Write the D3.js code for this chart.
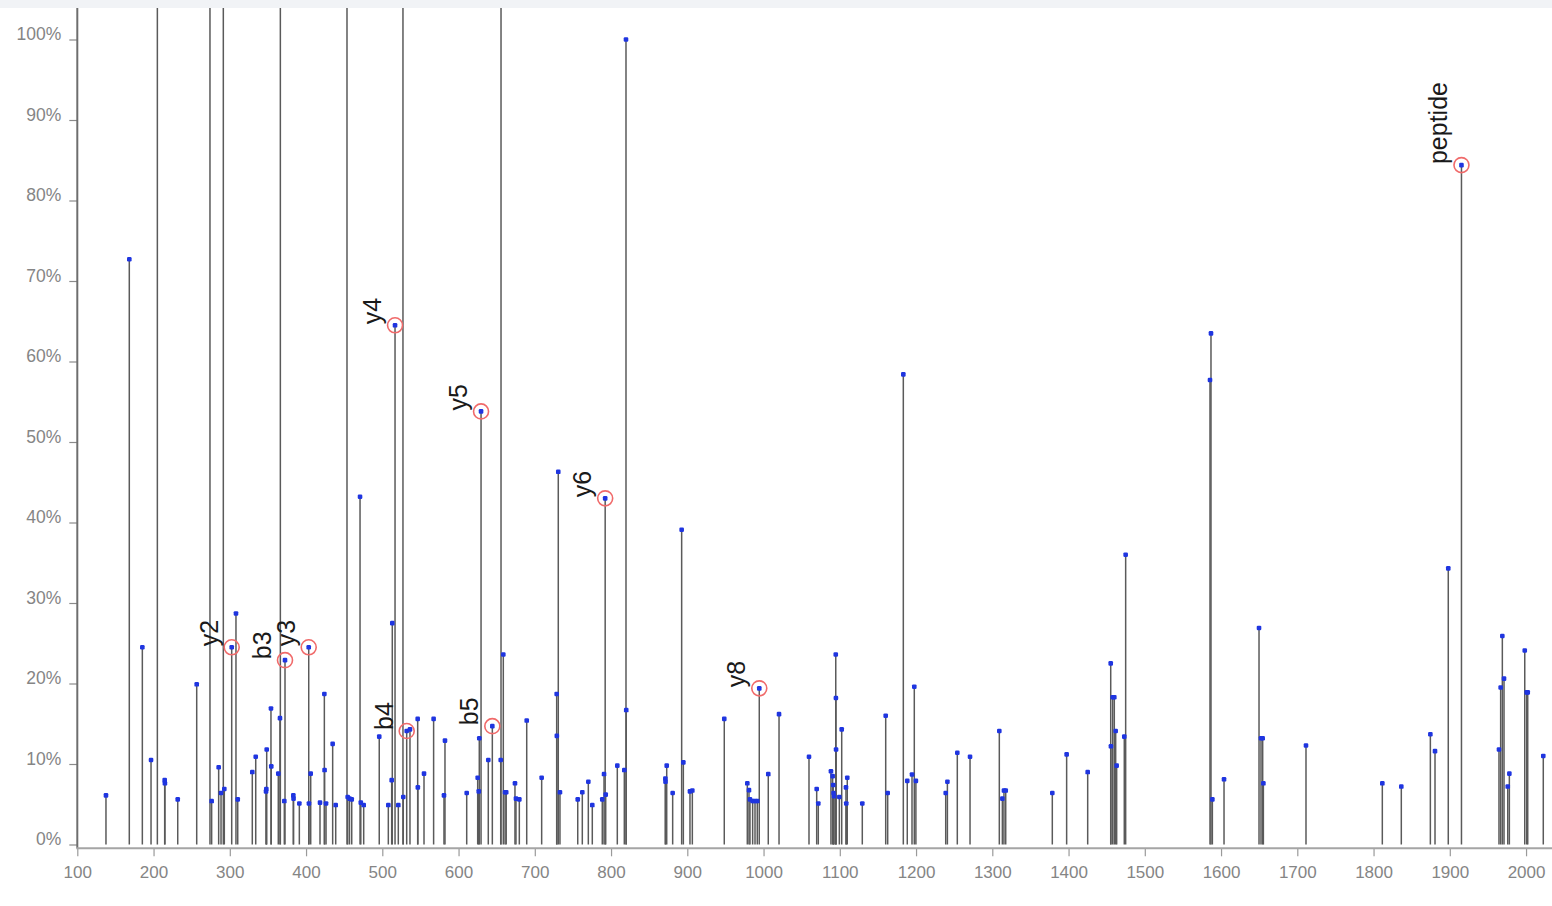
<!DOCTYPE html>
<html>
<head>
<meta charset="utf-8">
<script src="https://cdn.jsdelivr.net/npm/d3@7"></script>
<style>
  html, body { margin: 0; padding: 0; background: #fff; }
  svg { display: block; }
</style>
</head>
<body>
<svg id="chart" width="1552" height="906"></svg>
<script>
// Fragment ion spectrum: m/z positions and relative intensities (%)
const peakMz = [
  137.6, 168.2, 185.3, 196.7, 205.0, 214.6, 214.9, 231.7, 256.6, 274.0,
  276.2, 285.4, 288.5, 291.5, 292.8, 302.5, 308.1, 310.4, 329.5, 334.0,
  347.5, 347.9, 348.4, 354.0, 354.4, 363.6, 365.8, 366.3, 371.5, 372.4,
  383.3, 383.6, 391.2, 403.5, 403.8, 406.1, 418.3, 424.0, 424.3, 426.2,
  434.9, 438.9, 453.7, 454.6, 457.0, 459.9, 470.8, 471.8, 475.6, 496.0,
  507.9, 512.3, 513.1, 516.7, 521.0, 527.1, 527.5, 532.0, 536.3, 546.4,
  546.6, 554.7, 567.3, 580.9, 582.2, 610.7, 625.1, 626.5, 627.2, 629.5,
  639.0, 644.3, 655.3, 655.7, 658.7, 661.0, 662.5, 674.0, 675.3, 679.7,
  689.4, 709.0, 728.7, 728.9, 730.8, 733.0, 756.3, 762.3, 770.2, 775.4,
  788.5, 790.8, 792.3, 793.0, 808.2, 817.4, 819.6, 819.9, 871.2, 871.4,
  873.0, 880.8, 892.6, 894.8, 903.5, 906.6, 948.5, 978.7, 980.9, 982.2,
  985.7, 988.8, 991.8, 994.4, 1006.2, 1020.3, 1059.6, 1069.7, 1071.8, 1088.4,
  1090.6, 1091.4, 1091.8, 1092.5, 1094.7, 1094.9, 1095.1, 1099.4, 1102.5, 1108.1,
  1108.5, 1109.8, 1129.5, 1160.2, 1162.8, 1183.3, 1188.5, 1194.7, 1197.7, 1199.8,
  1238.9, 1241.1, 1254.1, 1270.8, 1309.2, 1313.2, 1315.3, 1317.6, 1378.7, 1397.5,
  1425.1, 1455.3, 1455.6, 1457.9, 1460.0, 1461.8, 1463.1, 1473.1, 1474.9, 1585.5,
  1586.8, 1588.6, 1603.9, 1649.8, 1652.4, 1654.6, 1655.5, 1711.4, 1811.5, 1836.4,
  1874.5, 1880.6, 1898.0, 1915.3, 1964.5, 1966.7, 1968.9, 1971.1, 1976.0, 1978.1,
  1998.3, 2000.9, 2002.2, 2022.6
];
const peakIntensity = [
  6.1, 72.7, 24.5, 10.5, 140, 8.0, 7.6, 5.6, 19.9, 130,
  5.4, 9.6, 6.4, 125, 6.9, 24.5, 28.7, 5.6, 9.0, 10.9,
  6.6, 6.9, 11.8, 16.9, 9.7, 8.8, 15.7, 135, 5.4, 22.9,
  6.1, 5.7, 5.1, 24.5, 5.1, 8.8, 5.2, 18.7, 9.25, 5.1,
  12.5, 4.9, 120, 5.9, 5.7, 5.6, 43.2, 5.2, 4.9, 13.4,
  4.9, 8.0, 27.5, 64.5, 4.9, 145, 5.9, 14.1, 14.3, 15.6,
  7.1, 8.8, 15.6, 6.1, 12.9, 6.4, 8.3, 6.6, 13.2, 53.8,
  10.5, 14.7, 10.5, 150, 23.6, 6.5, 6.5, 7.6, 5.7, 5.6,
  15.4, 8.3, 18.7, 13.5, 46.3, 6.5, 5.6, 6.5, 7.8, 4.9,
  5.6, 8.75, 43.0, 6.2, 9.8, 9.25, 100, 16.7, 8.2, 7.8,
  9.8, 6.4, 39.1, 10.2, 6.6, 6.7, 15.6, 7.6, 6.75, 5.6,
  5.4, 5.4, 5.4, 19.4, 8.75, 16.2, 10.9, 6.9, 5.1, 9.1,
  8.5, 7.4, 6.4, 6.0, 23.6, 18.2, 11.8, 5.9, 14.3, 7.1,
  5.1, 8.3, 5.1, 16.0, 6.4, 58.4, 7.9, 8.7, 19.6, 7.9,
  6.4, 7.8, 11.4, 10.9, 14.1, 5.7, 6.7, 6.7, 6.4, 11.2,
  9.0, 22.5, 12.2, 18.3, 18.3, 14.1, 9.8, 13.4, 36.0, 57.7,
  63.5, 5.6, 8.1, 26.9, 13.2, 13.2, 7.6, 12.3, 7.6, 7.2,
  13.7, 11.6, 34.3, 84.4, 11.8, 19.5, 25.9, 20.6, 7.2, 8.8,
  24.1, 18.9, 18.9, 11.0
];

// Assigned fragment ions
const ionLabels = ["y2", "b3", "y3", "y4", "b4", "y5", "b5", "y6", "y8", "peptide"];
const ionMz = [302.5, 372.4, 403.5, 516.7, 532.0, 629.5, 644.3, 792.3, 994.4, 1915.3];
const ionIntensity = [24.5, 22.9, 24.5, 64.5, 14.1, 53.8, 14.7, 43.0, 19.4, 84.4];

const xTicks = d3.range(100, 2001, 100);
const yTicks = d3.range(0, 101, 10);

const W = 1552, H = 906;
const plotTop = 8;
const axisY = 848.3;

const svg = d3.select("#chart");

const x = d3.scaleLinear().domain([100, 2000]).range([77.3, 1526.05]);
const y = d3.scaleLinear().domain([0, 100]).range([844.5, 39.5]);

// faint band along the top edge
svg.append("rect")
  .attr("x", 0).attr("y", 0).attr("width", W).attr("height", plotTop)
  .attr("fill", "#f1f3f6");

svg.append("clipPath").attr("id", "plot-clip")
  .append("rect").attr("x", 0).attr("y", plotTop).attr("width", W).attr("height", H - plotTop);

const tickFont = "'Liberation Sans', Arial, sans-serif";

// y axis
const yAxis = svg.append("g")
  .attr("transform", `translate(${x(100)},0)`)
  .call(d3.axisLeft(y).tickValues(yTicks).tickFormat(d => d + "%").tickSize(8).tickSizeOuter(0));
yAxis.select(".domain").remove();
yAxis.selectAll(".tick line").attr("stroke", "#8a8a8a").attr("stroke-width", 1.2);
yAxis.selectAll(".tick text")
  .attr("x", -16).attr("dy", "0")
  .attr("fill", "#858585")
  .style("font-family", tickFont)
  .style("font-size", "17.5px");
svg.append("line")
  .attr("x1", x(100)).attr("x2", x(100))
  .attr("y1", plotTop).attr("y2", axisY)
  .attr("stroke", "#6e6e6e").attr("stroke-width", 2);

// x axis
const xAxis = svg.append("g")
  .attr("transform", `translate(0,${axisY})`)
  .call(d3.axisBottom(x).tickValues(xTicks).tickFormat(d3.format("d")).tickSize(8).tickSizeOuter(0));
xAxis.select(".domain").remove();
xAxis.selectAll(".tick line").attr("stroke", "#9a9a9a").attr("stroke-width", 1.2);
xAxis.selectAll(".tick text")
  .attr("y", 29.4).attr("dy", "0")
  .attr("fill", "#858585")
  .style("font-family", tickFont)
  .style("font-size", "17px");
svg.append("line")
  .attr("x1", x(100) - 1).attr("x2", W)
  .attr("y1", axisY).attr("y2", axisY)
  .attr("stroke", "#a5a5a5").attr("stroke-width", 2);

const peaks = peakMz.map((m, i) => ({ mz: m, v: peakIntensity[i] }));

const plot = svg.append("g").attr("clip-path", "url(#plot-clip)");

// stick lines
plot.selectAll("line.peak")
  .data(peaks)
  .join("line")
  .attr("class", "peak")
  .attr("x1", d => x(d.mz)).attr("x2", d => x(d.mz))
  .attr("y1", y(0)).attr("y2", d => y(d.v))
  .attr("stroke", "#5a5a5a")
  .attr("stroke-width", 1.5);

// peak apex markers
plot.selectAll("rect.apex")
  .data(peaks)
  .join("rect")
  .attr("class", "apex")
  .attr("x", d => x(d.mz) - 2.3).attr("y", d => y(d.v) - 2.3)
  .attr("width", 4.6).attr("height", 4.6).attr("rx", 1.2)
  .attr("fill", "#1f35e0");

// annotated ions
const ions = ionLabels.map((t, i) => ({ label: t, mz: ionMz[i], v: ionIntensity[i] }));

plot.selectAll("circle.ion")
  .data(ions)
  .join("circle")
  .attr("class", "ion")
  .attr("cx", d => x(d.mz)).attr("cy", d => y(d.v))
  .attr("r", 7.5)
  .attr("fill", "none")
  .attr("stroke", "#f06a6a")
  .attr("stroke-width", 1.6);

plot.selectAll("text.ion")
  .data(ions)
  .join("text")
  .attr("class", "ion")
  .attr("transform", d => `translate(${x(d.mz) - 14},${y(d.v) - 1}) rotate(-90)`)
  .attr("text-anchor", "start")
  .attr("fill", "#1a1a1a")
  .style("font-family", "'Liberation Sans', Arial, sans-serif")
  .style("font-size", "25px")
  .text(d => d.label);
</script>
</body>
</html>
